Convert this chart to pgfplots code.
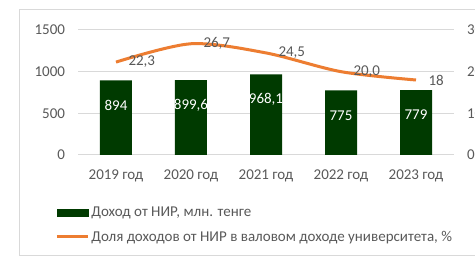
\documentclass[border=0pt]{standalone}
\usepackage{pgfplots}
\pgfplotsset{compat=1.18}
\usepackage{fontspec}
\setmainfont{Carlito}
\definecolor{bargreen}{HTML}{003A00}
\definecolor{lineorange}{HTML}{ED7D31}
\definecolor{gridgray}{HTML}{D9D9D9}
\definecolor{txtgray}{HTML}{595959}
\pgfplotsset{
  common/.style={
    at={(78.5pt,102pt)}, anchor=south west,
    scale only axis, width=375pt, height=125pt,
    xmin=-0.5, xmax=4.5,
    axis line style={draw=none}, major tick length=0pt,
    tick label style={font=\fontsize{15}{18}\selectfont, text=txtgray},
    /pgf/number format/assume math mode=true,
    /pgf/number format/1000 sep={},
  }
}
\pgfplotstableread{
x y lab
0 22.3 {22,3}
1 26.7 {26,7}
2 24.5 {24,5}
3 20.0 {20,0}
4 18 18
}\sharetab
\begin{document}
\begin{tikzpicture}[x=1pt,y=1pt]
\useasboundingbox (0,0) rectangle (475,257);
\fill[white] (0,0) rectangle (475,257);
\draw[gridgray, line width=1pt] (19,247) rectangle (520,1);
\begin{axis}[common,
  ymin=0, ymax=1500,
  xtick={0,1,2,3,4},
  xticklabels={2019 год,2020 год,2021 год,2022 год,2023 год},
  ytick={0,500,1000,1500},
  ymajorgrids, major grid style={gridgray, line width=1pt},
  axis y line*=left, axis x line*=bottom,
  yticklabel style={xshift=-10pt},
  xticklabel style={yshift=-11pt},
]
\addplot[ybar, bar width=32pt, fill=bargreen, draw=none,
  nodes near coords, point meta=explicit symbolic,
  every node near coord/.append style={anchor=center, yshift=-25pt, text=white, font=\fontsize{15}{18}\selectfont}]
  table[meta=lab] {
x y lab
0 894 894
1 899.6 {899,6}
2 968.1 {968,1}
3 775 775
4 779 779
};
\end{axis}
\begin{axis}[common,
  ymin=0, ymax=30,
  axis y line*=right, axis x line=none,
  ytick={0,10,20,30},
  yticklabel style={xshift=10pt},
  legend style={at={(-0.07,-0.38)}, anchor=north west, draw=none, fill=none,
    font=\fontsize{15}{18}\selectfont, text=txtgray, row sep=9pt,
    nodes={inner sep=2pt}},
  legend cell align=left,
]
\addlegendimage{legend image code/.code={\fill[bargreen] (0pt,-3.5pt) rectangle (31pt,3.5pt);}}
\addlegendentry{Доход от НИР, млн. тенге}
\addplot[lineorange, line width=3pt, smooth,
  legend image code/.code={\draw[lineorange, line width=3pt] (0pt,0pt) -- (31pt,0pt);}]
  table[x=x, y=y] {\sharetab};
\addlegendentry{Доля доходов от НИР в валовом доходе университета, \%}
\addplot[draw=none, mark=none, forget plot,
  nodes near coords, point meta=explicit symbolic,
  nodes near coords align={center},
  every node near coord/.append style={anchor=west, xshift=9pt, text=txtgray, font=\fontsize{15}{18}\selectfont}]
  table[x=x, y=y, meta=lab] {\sharetab};
\end{axis}
\end{tikzpicture}
\end{document}
